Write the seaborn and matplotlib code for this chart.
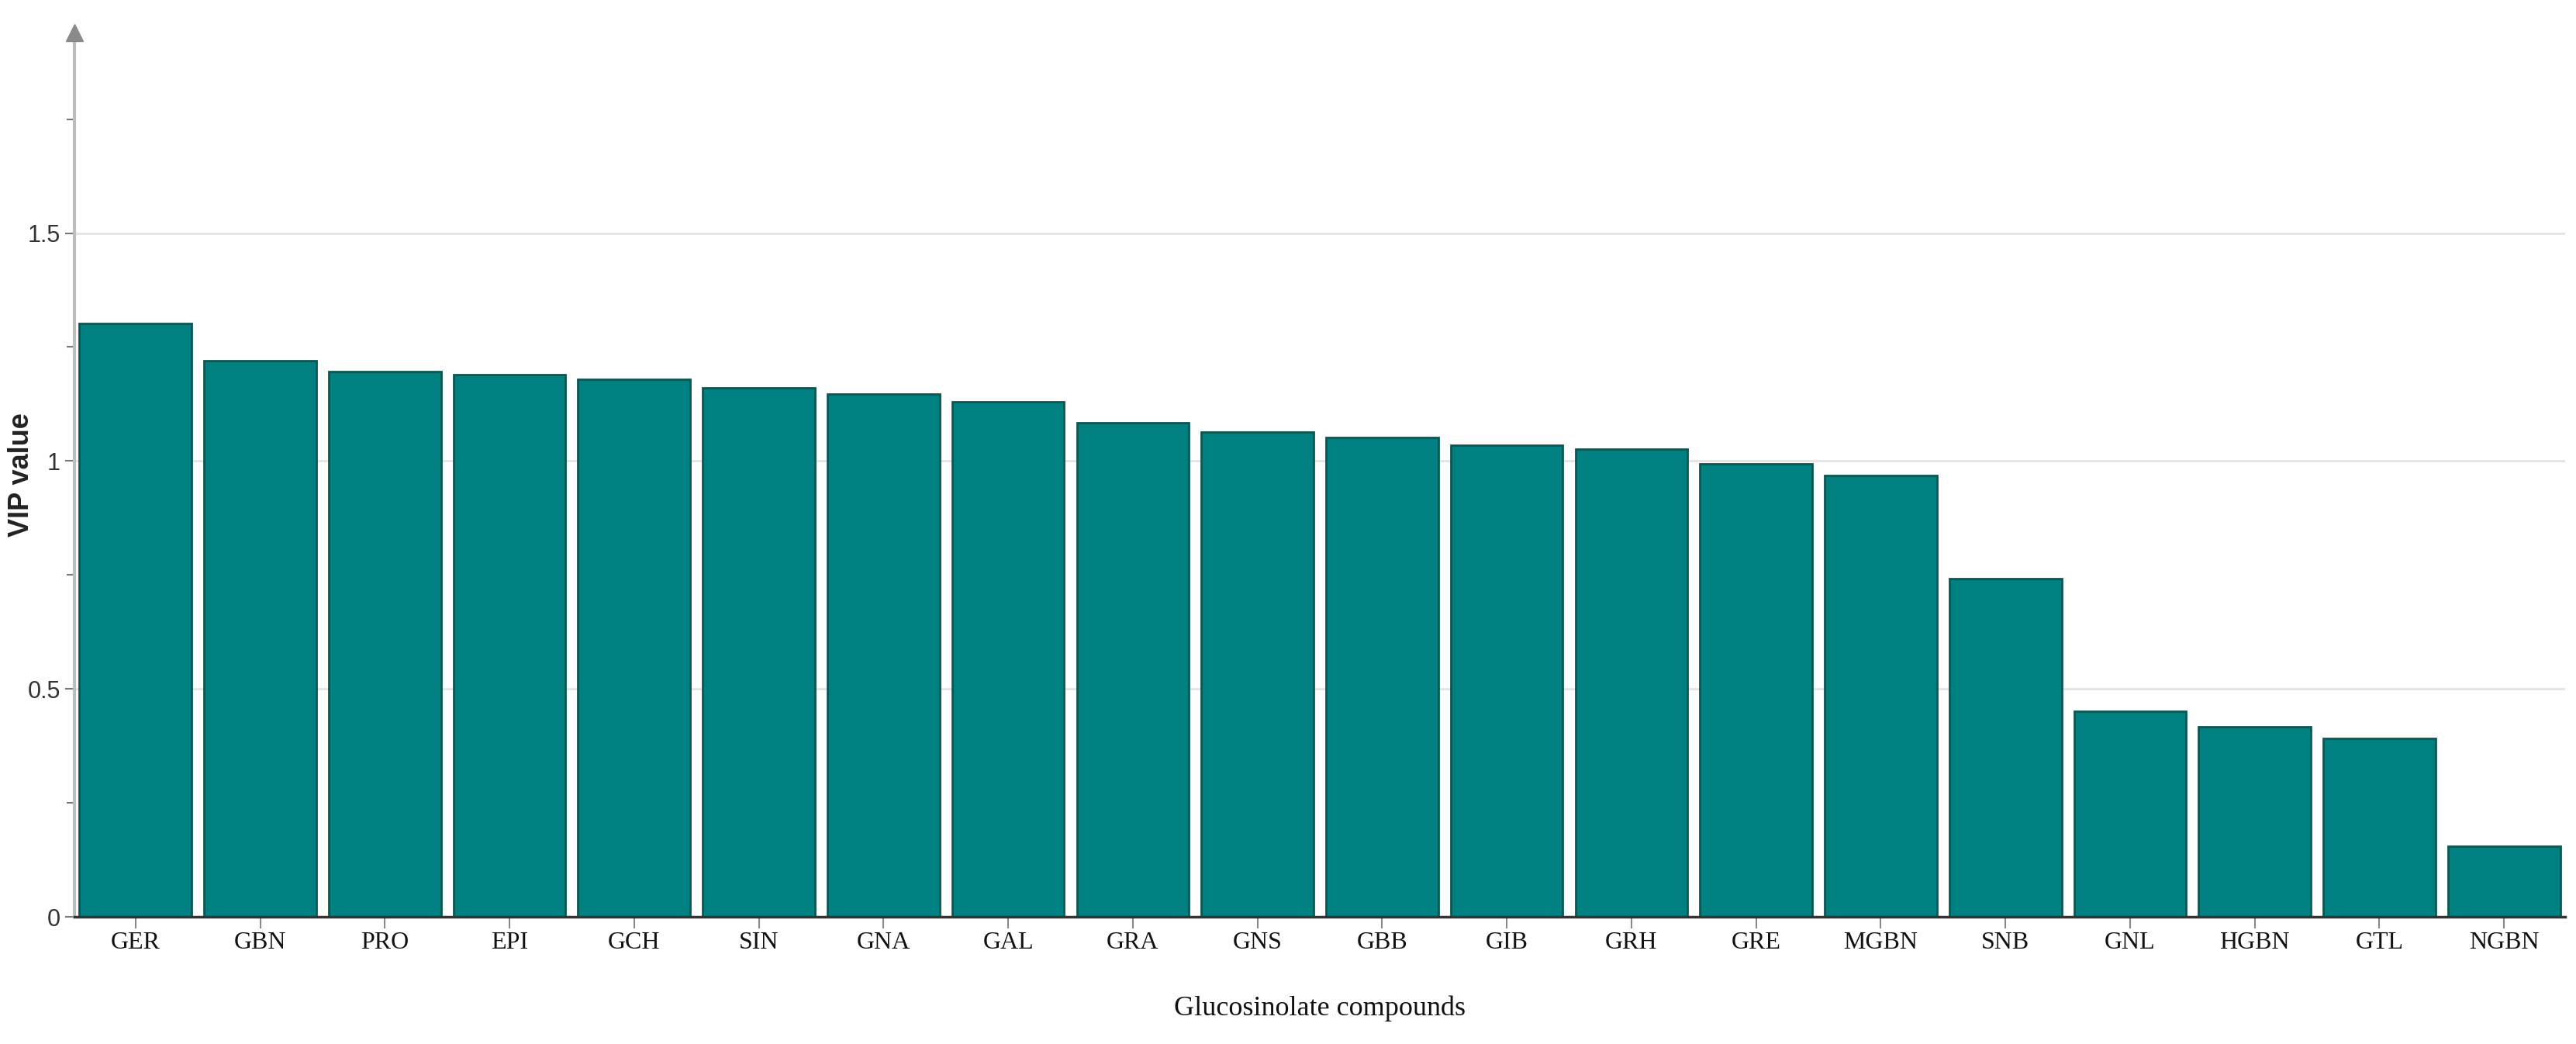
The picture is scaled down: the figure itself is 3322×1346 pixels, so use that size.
import numpy as np
import pandas as pd
import matplotlib
matplotlib.use("Agg")
import matplotlib.pyplot as plt
import seaborn as sns

# VIP values
compounds = ["GER", "GBN", "PRO", "EPI", "GCH", "SIN", "GNA", "GAL", "GRA", "GNS",
             "GBB", "GIB", "GRH", "GRE", "MGBN", "SNB", "GNL", "HGBN", "GTL", "NGBN"]
vip = [1.301, 1.221, 1.197, 1.189, 1.180, 1.160, 1.147, 1.130, 1.084, 1.063,
       1.051, 1.035, 1.026, 0.993, 0.968, 0.742, 0.451, 0.417, 0.391, 0.155]
y_ticks = [0, 0.5, 1, 1.5]
y_ticklabels = ["0", "0.5", "1", "1.5"]
y_minor = [0.25, 0.75, 1.25, 1.75]

BAR = "#008080"
EDGE = "#0b5753"

df = pd.DataFrame({"compound": compounds, "vip": vip})

sns.set_theme(style="white")
plt.rcParams["font.family"] = ["Liberation Sans", "DejaVu Sans"]

fig = plt.figure(figsize=(33.22, 13.46), dpi=100)
ax = fig.add_axes([96 / 3322, 1 - 1182 / 1346, 3212 / 3322, (1182 - 42) / 1346])

sns.barplot(data=df, x="compound", y="vip", color=BAR, width=0.9,
            edgecolor=EDGE, linewidth=2, saturation=1, ax=ax, zorder=3)

ax.set_xlim(-0.49, len(compounds) - 0.51)
ax.set_ylim(0, 1.94)

ax.set_yticks(y_ticks)
ax.set_yticklabels(y_ticklabels, fontsize=22, color="#333333")
ax.set_yticks(y_minor, minor=True)
ax.yaxis.grid(True, which="major", color="#e3e3e3", linewidth=2, zorder=0)
ax.xaxis.grid(False)
ax.tick_params(axis="y", which="major", length=9, width=1.5, color="#777777",
               pad=4, left=True)
ax.tick_params(axis="y", which="minor", length=7, width=1.5, color="#777777", left=True)
ax.tick_params(axis="x", length=11, width=1.5, color="#888888", pad=3, bottom=True)

for lab in ax.get_xticklabels():
    lab.set_fontfamily("Liberation Serif")
    lab.set_fontsize(23)
    lab.set_color("#111111")

for s in ["top", "right"]:
    ax.spines[s].set_visible(False)
ax.spines["left"].set_color("#bdbdbd")
ax.spines["left"].set_linewidth(3)
ax.spines["bottom"].set_color("#333333")
ax.spines["bottom"].set_linewidth(2.5)
ax.spines["bottom"].set_zorder(4)

# arrow head on top of the y axis
ax.plot(0, 1, marker="^", markersize=16, color="#8a8a8a", transform=ax.transAxes,
        clip_on=False, zorder=5)

ax.set_ylabel("VIP value", fontsize=26, fontweight="bold", color="#222222")
ax.yaxis.set_label_coords(-0.016, 0.5)
ax.set_xlabel("Glucosinolate compounds", fontsize=26, fontfamily="Liberation Serif",
              color="#111111", labelpad=38)

fig.savefig("out.png", dpi=100, facecolor="white")
